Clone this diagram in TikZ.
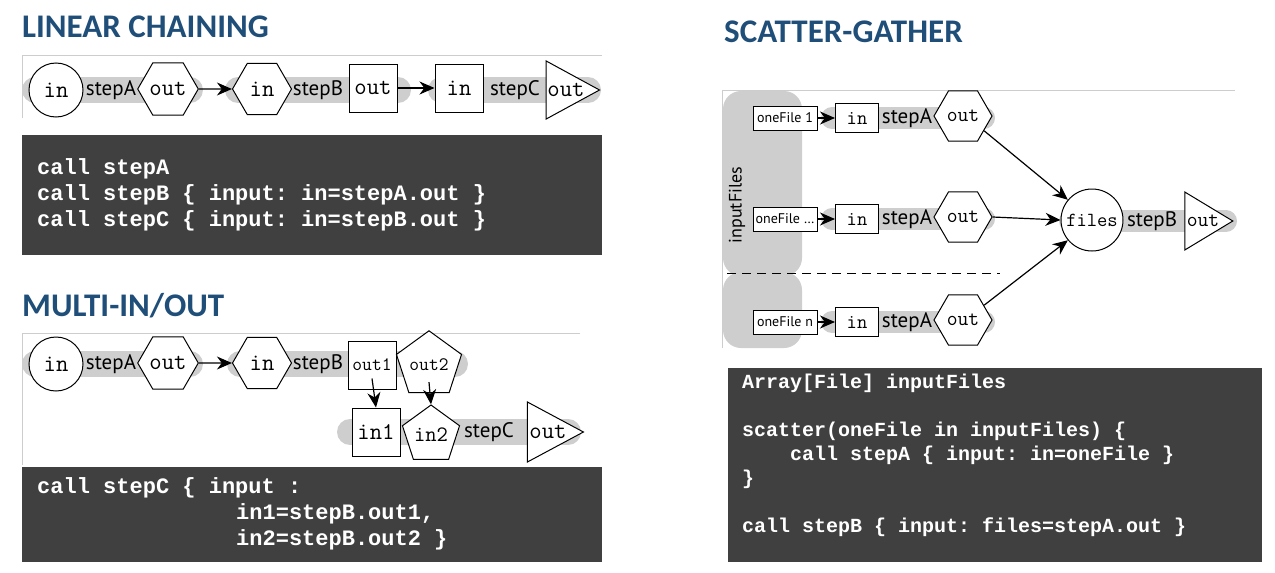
\documentclass[tikz,border=0pt]{standalone}
\usepackage{fontspec}
\setmainfont{PT Sans}
\newfontfamily\headfont{Carlito}
\newfontfamily\codefont{Liberation Mono}
\usetikzlibrary{shapes.geometric,arrows.meta,positioning}
\definecolor{headblue}{RGB}{31,78,121}
\definecolor{codebg}{RGB}{64,64,64}
\definecolor{bandgray}{RGB}{206,206,206}
\definecolor{framegray}{RGB}{205,205,205}
\frenchspacing
\tikzset{
  heading/.style={anchor=west, inner sep=0, text=headblue,
    font=\headfont\bfseries\fontsize{33}{33}\selectfont},
  frameline/.style={draw=framegray, line width=1pt},
  band/.style={draw=bandgray, line width=26pt, line cap=round},
  codebox/.style={fill=codebg},
  codeline/.style={anchor=west, inner sep=0, text=white,
    font=\codefont\bfseries\fontsize{22}{22}\selectfont},
  smallcode/.style={codeline, font=\codefont\bfseries\fontsize{20}{20}\selectfont},
  stepname/.style={inner sep=0, font=\fontsize{21}{21}\selectfont},
  port/.style={draw, line width=1pt, fill=white, inner sep=0,
    font=\ttfamily\fontsize{24}{24}\selectfont},
  portcircle/.style={port, circle, minimum size=54pt},
  porthex/.style={port, regular polygon, regular polygon sides=6, minimum size=59pt},
  portbox/.style={port, rectangle, minimum size=48pt},
  portpent/.style={port, regular polygon, regular polygon sides=5, minimum size=60pt},
  porttri/.style={port, isosceles triangle, isosceles triangle stretches,
    shape border rotate=0, minimum width=58pt, minimum height=50pt},
  filebox/.style={draw, line width=1pt, fill=white, inner sep=0,
    minimum width=64pt, minimum height=24pt, font=\fontsize{14}{14}\selectfont},
  flow/.style={-{Stealth[length=15pt,width=13pt]}, line width=1.2pt},
}
\begin{document}
\begin{tikzpicture}[x=1pt, y=-1pt]
\useasboundingbox (0,0) rectangle (1275,573);

% linear chaining
\node[heading] (h1) at (22,27) {LINEAR CHAINING};
\draw[frameline] (602,55) -- (22,55) -- (22,118);
\draw[band] (35,90) -- (190,90);
\draw[band] (238,90) -- (398,90);
\draw[band] (441,90) -- (588,90);
\node[portcircle] (a1in) at (56,90) {in};
\node[stepname] (a1) at (111,90) {stepA};
\node[porthex] (a1out) at (168,89) {out};
\node[porthex] (b1in) at (262,89) {in};
\node[stepname] (b1) at (318,90) {stepB};
\node[portbox] (b1out) at (373,88) {out};
\node[portbox] (c1in) at (459,88) {in};
\node[stepname] (c1) at (515,90) {stepC};
\node[porttri] (c1out) at (566,90) {out};
\draw[flow] (a1out.east) -- (b1in.west);
\draw[flow] (b1out.east) -- (c1in.west);
\fill[codebox] (22,135) rectangle (602,255);
\node[codeline] (k1) at (37,169) {call stepA};
\node[codeline] (k2) at (37,195) {call stepB \{ input: in=stepA.out \}};
\node[codeline] (k3) at (37,221) {call stepC \{ input: in=stepB.out \}};

% multi in/out
\node[heading] (h2) at (22,306) {MULTI-IN/OUT};
\draw[frameline] (580,333) -- (22,333) -- (22,465);
\draw[band] (35,364) -- (190,364);
\draw[band] (240,364) -- (455,364);
\draw[band] (350,432) -- (568,432);
\node[portcircle] (a2in) at (56,364) {in};
\node[stepname] (a2) at (111,364) {stepA};
\node[porthex] (a2out) at (168,363) {out};
\node[porthex] (b2in) at (262,363) {in};
\node[stepname] (b2) at (318,364) {stepB};
\node[portbox, font=\ttfamily\fontsize{19}{19}\selectfont] (b2out1) at (372,365) {out1};
\node[portpent, font=\ttfamily\fontsize{19}{19}\selectfont] (b2out2) at (429,365) {out2};
\node[portbox] (c2in1) at (376,432) {in1};
\node[portpent, font=\ttfamily\fontsize{22}{22}\selectfont] (c2in2) at (431,435) {in2};
\node[stepname] (c2) at (489,432) {stepC};
\node[porttri, minimum width=60pt, minimum height=56pt] (c2out) at (548,432) {out};
\draw[flow] (a2out.east) -- (b2in.west);
\draw[flow] ([yshift=11pt]b2out1.south) -- (c2in1.north);
\draw[flow] ([yshift=11pt]b2out2.south) -- (c2in2.north);
\fill[codebox] (22,467) rectangle (602,562);
\node[codeline] (m1) at (37,488) {call stepC \{ input :};
\node[codeline] (m2) at (236,514) {in1=stepB.out1,};
\node[codeline] (m3) at (236,540) {in2=stepB.out2 \}};

% scatter-gather
\node[heading] (h3) at (724,32) {SCATTER-GATHER};
\draw[frameline] (1235,90) -- (722,90) -- (722,348);
\fill[bandgray, rounded corners=18pt] (723,91) rectangle (802,276);
\fill[bandgray, rounded corners=18pt] (723,272) rectangle (802,348);
\node[rotate=90, font=\fontsize{18}{18}\selectfont] (files-label) at (737,205) {inputFiles};
\draw[dashed, dash pattern=on 9pt off 6pt, line width=1pt] (727,273) -- (1000,273);
\foreach \r/\y/\t in {1/118/oneFile 1, 2/219/oneFile \ldots, 3/322/oneFile n} {
  \draw[band, line width=22pt] (832,\y) -- (984,\y);
  \node[filebox] (f\r) at (785,\y) {\t};
  \node[port, rectangle, minimum width=43pt, minimum height=29pt,
    font=\ttfamily\fontsize{20}{20}\selectfont] (s\r in) at (857,\y) {in};
  \node[stepname] (s\r) at (907,\y) {stepA};
  \node[porthex, minimum size=58pt, font=\ttfamily\fontsize{21}{21}\selectfont]
    (s\r out) at (963,\y-2) {out};
  \draw[flow] (f\r.east) -- (s\r in.west);
}
\draw[band, line width=22pt] (1070,221) -- (1226,221);
\node[portcircle, minimum size=62pt, font=\ttfamily\fontsize{20}{20}\selectfont]
  (files) at (1092,220) {files};
\node[stepname] (sB) at (1152,221) {stepB};
\node[porttri, minimum width=58pt, minimum height=48pt,
  font=\ttfamily\fontsize{21}{21}\selectfont] (sBout) at (1203,221) {out};
\draw[flow] (s1out.-35) -- (files.140);
\draw[flow] (s2out.east) -- (files.west);
\draw[flow] (s3out.35) -- (files.-140);
\fill[codebox] (728,368) rectangle (1262,562);
\node[smallcode] (n1) at (742,383) {Array[File] inputFiles};
\node[smallcode] (n2) at (742,431) {scatter(oneFile in inputFiles) \{};
\node[smallcode] (n3) at (790,455) {call stepA \{ input: in=oneFile \}};
\node[smallcode] (n4) at (742,479) {\}};
\node[smallcode] (n5) at (742,527) {call stepB \{ input: files=stepA.out \}};
\end{tikzpicture}
\end{document}
